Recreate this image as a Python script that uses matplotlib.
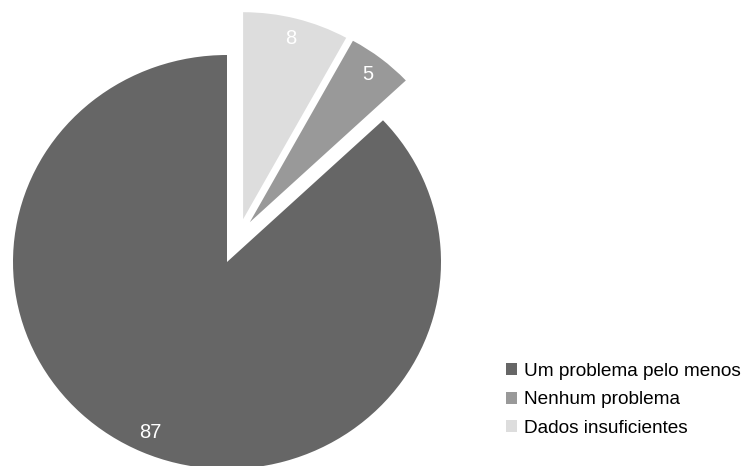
import numpy as np
import matplotlib
matplotlib.use('Agg')
import matplotlib.pyplot as plt

plt.rcParams['font.family'] = ['Liberation Sans', 'DejaVu Sans']

# dados
categorias = ['Um problema pelo menos', 'Nenhum problema', 'Dados insuficientes']
valores = [87, 5, 8]
cores = ['#666666', '#999999', '#dddddd']
# deslocamento (raio) e angulo de cada fatia destacada
destaque = [0.0, 0.22, 0.22]
angulo_destaque = [0, 61, 70]

W, H = 747, 466
fig = plt.figure(figsize=(W / 100, H / 100), dpi=100)
ax = fig.add_axes([0, 0, 1, 1])

wedges, texts, autotexts = ax.pie(valores, colors=cores, startangle=90,
                                  counterclock=True, radius=1,
                                  autopct=lambda p: '%.0f' % p,
                                  pctdistance=0.9,
                                  wedgeprops=dict(linewidth=0),
                                  textprops=dict(color='white', fontsize=14.5))

for w, t, d, a in zip(wedges, autotexts, destaque, angulo_destaque):
    cx = d * np.cos(np.radians(a))
    cy = d * np.sin(np.radians(a))
    w.set_center((cx, cy))
    mid = np.radians((w.theta1 + w.theta2) / 2)
    t.set_position((cx + 0.9 * np.cos(mid), cy + 0.9 * np.sin(mid)))

# pizza levemente achatada como no original
cxp, cyp, rx, ry = 227, 262, 214, 207
ax.set_aspect('auto')
ax.set_xlim(-cxp / rx, (W - cxp) / rx)
ax.set_ylim(-(H - cyp) / ry, cyp / ry)
ax.axis('off')

leg = fig.legend(wedges, categorias, loc='center left',
                 bbox_to_anchor=(506 / W, 1 - 400 / H),
                 frameon=False, fontsize=13.7, borderpad=0, borderaxespad=0,
                 handlelength=0.6, handleheight=0.6, handletextpad=0.33,
                 labelspacing=0.6)

fig.savefig('out.png', dpi=100)
